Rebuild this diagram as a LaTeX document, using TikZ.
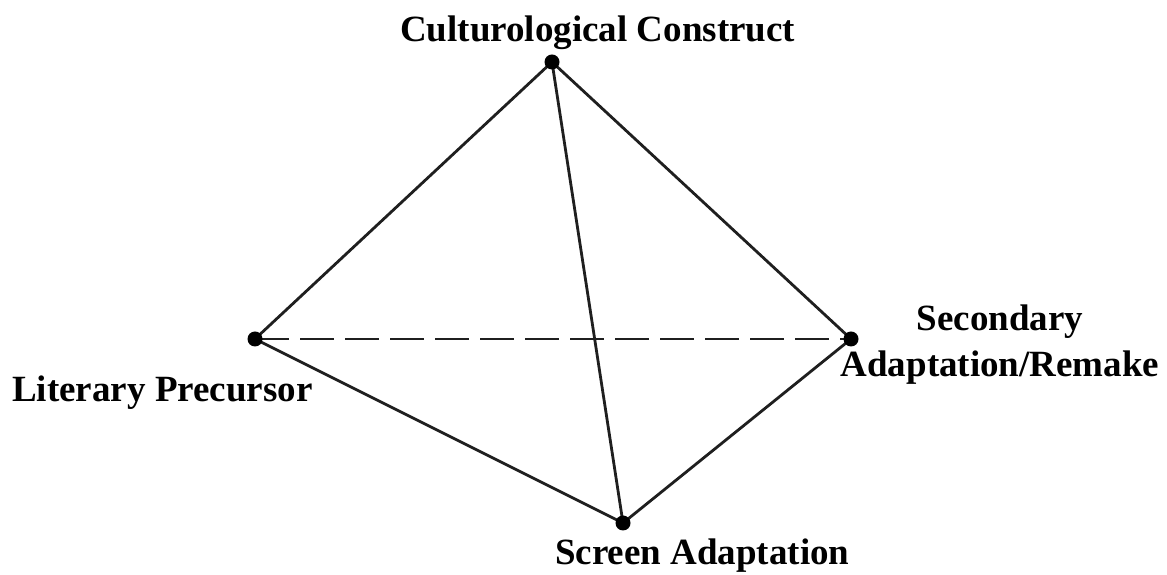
\documentclass[tikz,border=0pt]{standalone}
\usepackage{fontspec}
\setmainfont{Liberation Serif}
\usetikzlibrary{positioning}

\tikzset{
	edge/.style={line width=2.8pt, color=black!88},
	hidden/.style={edge, dash pattern=on 34pt off 11pt},
	vertexlabel/.style={font=\bfseries\fontsize{37}{46}\selectfont, inner sep=0pt, align=center}
}

\begin{document}
\begin{tikzpicture}[x=1pt,y=1pt]
		\useasboundingbox (0,0) rectangle (1167,575);
		\coordinate (cult) at (552,513);
		\coordinate (lit) at (255,236);
		\coordinate (sec) at (851,236);
		\coordinate (scr) at (623,52);
		\draw[edge](cult) -- (lit);
		\draw[edge](cult) -- (sec);
		\draw[edge](cult) -- (scr);
		\draw[edge](lit) -- (scr);
		\draw[edge](sec) -- (scr);
		\draw[hidden](lit) -- (sec);
		\fill(cult) circle(7.5);
		\fill(lit) circle(7.5);
		\fill(sec) circle(7.5);
		\fill(scr) circle(7.5);
		\node[vertexlabel, anchor=base west] (cultlabel) at (400,533) {Culturological Construct};
		\node[vertexlabel, anchor=base west] (litlabel) at (12,173) {Literary Precursor};
		\node[vertexlabel, anchor=base] (seclabel) at (1000,198) {Secondary\\Adaptation/Remake};
		\node[vertexlabel, anchor=base west] (scrlabel) at (555,10) {Screen Adaptation};
	\end{tikzpicture}
\end{document}
